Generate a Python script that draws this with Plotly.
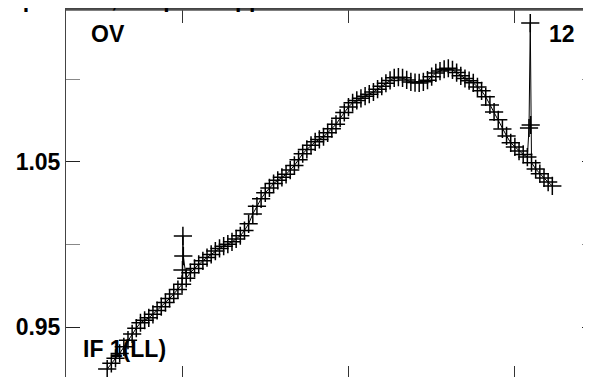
import plotly.graph_objects as go

# time (hours) and gain amplitude, including the two spikes
hours = [10.2, 10.3, 10.4, 10.5, 10.6, 10.7, 10.8, 10.9, 11.0, 11.1,
         11.2, 11.3, 11.4, 11.5, 11.6, 11.7, 11.8, 11.9, 12.0,
         12.01, 12.02, 12.03,
         12.1, 12.2, 12.3, 12.4, 12.5, 12.6, 12.7, 12.8, 12.9, 13.0,
         13.1, 13.2, 13.3, 13.4, 13.5, 13.6, 13.7, 13.8, 13.9, 14.0,
         14.1, 14.2, 14.3, 14.4, 14.5, 14.6, 14.7, 14.8, 14.9, 15.0,
         15.1, 15.2, 15.3, 15.4, 15.5, 15.6, 15.7, 15.8, 15.9, 16.0,
         16.1, 16.2, 16.3, 16.4, 16.5, 16.6, 16.7, 16.8, 16.9, 17.0,
         17.1, 17.2, 17.3, 17.4, 17.5, 17.6, 17.7, 17.8, 17.9, 18.0,
         18.1, 18.2, 18.3, 18.4, 18.5, 18.6, 18.7, 18.8, 18.9, 19.0,
         19.1, 19.2, 19.3, 19.4, 19.5, 19.6, 19.7, 19.8, 19.9, 20.0,
         20.1, 20.2, 20.3,
         20.34, 20.37, 20.38,
         20.4, 20.5, 20.6, 20.7, 20.8, 20.9]

gain = [0.9245, 0.9280, 0.9310, 0.9340, 0.9380, 0.9420, 0.9458, 0.9493, 0.9526, 0.9541,
        0.9556, 0.9577, 0.9600, 0.9623, 0.9648, 0.9673, 0.9700, 0.9727, 0.9759,
        0.9845, 1.0052, 0.9930,
        0.9795, 0.9829, 0.9855, 0.9880, 0.9901, 0.9921, 0.9940, 0.9960, 0.9976, 0.9990,
        1.0002, 1.0016, 1.0034, 1.0053, 1.0085, 1.0125, 1.0185, 1.0232, 1.0277, 1.0313,
        1.0343, 1.0369, 1.0389, 1.0407, 1.0425, 1.0451, 1.0479, 1.0514, 1.0550, 1.0576,
        1.0601, 1.0622, 1.0637, 1.0653, 1.0677, 1.0702, 1.0728, 1.0765, 1.0800, 1.0833,
        1.0859, 1.0873, 1.0886, 1.0899, 1.0911, 1.0924, 1.0941, 1.0959, 1.0977, 1.0994,
        1.1010, 1.1014, 1.1010, 1.0997, 1.0985, 1.0981, 1.0979, 1.0986, 1.0996, 1.1017,
        1.1040, 1.1051, 1.1062, 1.1068, 1.1058, 1.1042, 1.1022, 1.1006, 1.0993, 1.0980,
        1.0955, 1.0931, 1.0895, 1.0846, 1.0803, 1.0756, 1.0700, 1.0658, 1.0616, 1.0591,
        1.0566, 1.0546, 1.0530,
        1.0706, 1.1342, 1.0724,
        1.0496, 1.0458, 1.0429, 1.0403, 1.0378, 1.0355]

x_ticks = [12, 16, 20]
y_major = [0.95, 1.05]
y_labels = ["0.95", "1.05"]
y_minor = [1.00, 1.10]

x_range = [9.21, 21.95]
font = "Liberation Sans, Arial, sans-serif"

fig = go.Figure()
fig.add_trace(go.Scatter(
    x=hours, y=gain, mode="lines+markers",
    line=dict(color="black", width=1),
    marker=dict(symbol="cross-thin", size=13, line=dict(color="black", width=1.5)),
    showlegend=False, hoverinfo="skip"))
# empty trace so the top axis ticks get drawn
fig.add_trace(go.Scatter(x=[], y=[], xaxis="x2", showlegend=False, hoverinfo="skip"))

fig.add_annotation(text="OV", xref="paper", yref="paper", x=0.0425, y=0.935,
                   xanchor="left", yanchor="middle", showarrow=False)
fig.add_annotation(text="12", xref="paper", yref="paper", x=0.965, y=0.935,
                   xanchor="right", yanchor="middle", showarrow=False)
fig.add_annotation(text="IF 1(LL)", xref="paper", yref="paper", x=0.0274, y=0.08,
                   xanchor="left", yanchor="middle", showarrow=False)
# title sits mostly above the page, only its lower edge shows
fig.add_annotation(text="Gain amplitudes, IF space applied", xref="paper", yref="paper",
                   x=0.45, y=1.0, yshift=-4, xanchor="right", yanchor="bottom",
                   showarrow=False)

# top frame line
fig.add_shape(type="line", xref="paper", yref="paper", x0=0, x1=1, y0=1, y1=1,
              line=dict(color="#555", width=1.5), layer="above")

fig.update_layout(
    width=591, height=377,
    margin=dict(l=58, r=3, t=2, b=6, autoexpand=False),
    paper_bgcolor="white", plot_bgcolor="white",
    font=dict(family=font, size=23, color="black", weight="bold"),
    xaxis=dict(range=x_range, tickvals=x_ticks, showticklabels=False,
               ticks="inside", ticklen=13, tickcolor="#333", automargin=False,
               showline=False, showgrid=False, zeroline=False),
    xaxis2=dict(range=x_range, tickvals=x_ticks, showticklabels=False,
                overlaying="x", side="top", anchor="y",
                ticks="inside", ticklen=13, tickcolor="#333", automargin=False,
                showline=True, linecolor="#444", linewidth=1.5,
                showgrid=False, zeroline=False),
    yaxis=dict(range=[0.9185, 1.1421], tickvals=y_major, ticktext=y_labels,
               ticks="inside", ticklen=14, tickcolor="#222", automargin=False,
               tickfont=dict(family=font, size=23, color="black", weight="bold"),
               minor=dict(tickvals=y_minor, ticks="inside", ticklen=14, tickcolor="#888"),
               showline=True, linecolor="#444", linewidth=1, mirror="ticks",
               showgrid=False, zeroline=False),
)

fig.write_html("out.html")
